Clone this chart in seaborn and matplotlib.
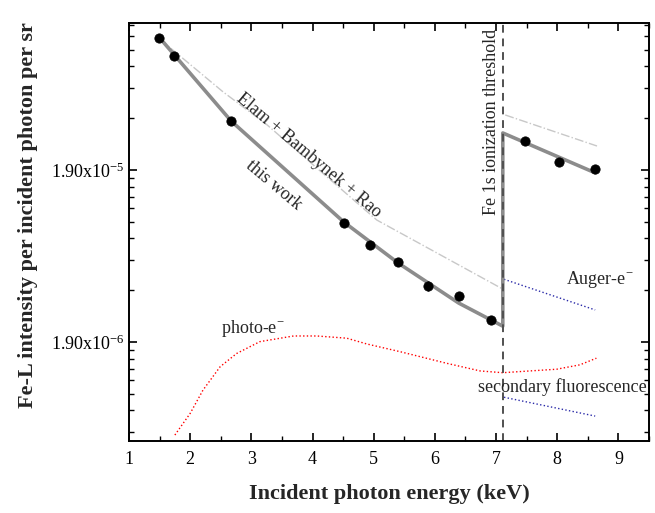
import numpy as np
import pandas as pd
import seaborn as sns
import matplotlib
matplotlib.use("Agg")
import matplotlib.pyplot as plt
from matplotlib.ticker import FixedLocator, FuncFormatter, MultipleLocator

# measured points ("this work")
energy_pts = [1.49, 1.74, 2.67, 4.51, 4.94, 5.40, 5.89, 6.39, 6.92, 7.47, 8.03, 8.62]
intensity_pts = [1.11e-4, 8.75e-5, 3.66e-5, 9.35e-6, 6.96e-6, 5.54e-6, 4.02e-6, 3.52e-6, 2.55e-6, 2.80e-5, 2.11e-5, 1.93e-5]
intensity_err = [0, 0, 0, 0, 3.0e-7, 0, 2.6e-7, 0, 1.4e-7, 0, 0, 0]

# model "this work"
work_x = [1.49, 2.67, 4.51, 5.40, 6.39, 7.11, 7.11, 8.62]
work_y = [1.127e-4, 3.66e-5, 9.48e-6, 5.47e-6, 3.20e-6, 2.35e-6, 3.12e-5, 1.83e-5]

# Elam + Bambynek + Rao
elam_x = [1.50, 2.54, 3.26, 5.05, 7.11]
elam_y = [1.098e-4, 5.40e-5, 3.47e-5, 9.73e-6, 3.86e-6]
elam2_x = [7.15, 8.65]
elam2_y = [3.97e-5, 2.62e-5]

# photo-electron contribution
photo_x = [1.75, 2.00, 2.21, 2.49, 2.76, 3.14, 3.69, 4.07, 4.56, 4.89, 5.43, 6.19, 6.74, 7.11, 7.55, 7.99, 8.37, 8.64]
photo_y = [5.47e-7, 7.31e-7, 9.99e-7, 1.365e-6, 1.63e-6, 1.91e-6, 2.06e-6, 2.06e-6, 2.00e-6, 1.85e-6, 1.67e-6, 1.43e-6, 1.29e-6, 1.26e-6, 1.29e-6, 1.32e-6, 1.40e-6, 1.53e-6]

# Auger electrons and secondary fluorescence above the edge
auger_x = [7.13, 8.62]
auger_y = [4.40e-6, 2.92e-6]
fluor_x = [7.13, 8.62]
fluor_y = [9.07e-7, 7.05e-7]

edge = 7.11
y_major = [1.9e-6, 1.9e-5]
y_minor = [1.9e-7 * m for m in range(3, 10)] + [1.9e-6 * m for m in range(2, 10)] + [1.9e-5 * m for m in range(2, 8)]

sns.set_theme(style="ticks")
plt.rcParams['font.family'] = ['Liberation Serif', 'DejaVu Serif']
plt.rcParams['mathtext.fontset'] = 'custom'
plt.rcParams['mathtext.rm'] = 'Liberation Serif'
plt.rcParams['mathtext.default'] = 'regular'

fig = plt.figure(figsize=(6.55, 5.13), dpi=100)
ax = fig.add_axes([129 / 655, 1 - 441 / 513, 520 / 655, 418 / 513])

line_kw = dict(ax=ax, sort=False, estimator=None)
sns.lineplot(x=elam_x, y=elam_y, color='#c8c8c8', lw=1, linestyle='-.', **line_kw)
sns.lineplot(x=elam2_x, y=elam2_y, color='#c8c8c8', lw=1, linestyle='-.', **line_kw)
sns.lineplot(x=photo_x, y=photo_y, color='red', lw=1, linestyle=':', **line_kw)
sns.lineplot(x=auger_x, y=auger_y, color='#2a2aa8', lw=1, linestyle=':', **line_kw)
sns.lineplot(x=fluor_x, y=fluor_y, color='#2a2aa8', lw=1, linestyle=':', **line_kw)
sns.lineplot(x=work_x, y=work_y, color='#8c8c8c', lw=2.6, **line_kw)
ax.axvline(edge, color='#505050', lw=1.4, linestyle=(0, (4, 3)))

ax.errorbar(energy_pts, intensity_pts, yerr=intensity_err, fmt='none', ecolor='black', elinewidth=1, capsize=0)
sns.scatterplot(x=energy_pts, y=intensity_pts, ax=ax, color='black', s=45, edgecolor='black', zorder=5)

ax.set_yscale('log')
ax.set_xlim(1, 9.5)
ax.set_ylim(5.05e-7, 1.36e-4)

ax.xaxis.set_major_locator(MultipleLocator(1))
ax.xaxis.set_minor_locator(MultipleLocator(0.5))
ax.yaxis.set_major_locator(FixedLocator(y_major))
ax.yaxis.set_minor_locator(FixedLocator(y_minor))
ax.yaxis.set_major_formatter(FuncFormatter(lambda v, p: "1.90x10$^{%d}$" % round(np.log10(v / 1.9))))
ax.yaxis.set_minor_formatter(FuncFormatter(lambda v, p: ""))

ax.tick_params(which='both', direction='in', top=True, right=True, colors='black', labelsize=13)
ax.tick_params(which='major', length=6, width=1.2)
ax.tick_params(which='minor', length=3.5, width=1)
ax.tick_params(axis='x', pad=7)
for s in ax.spines.values():
    s.set_linewidth(1.4)
    s.set_color('black')

ax.set_xlabel('Incident photon energy (keV)', fontsize=16, fontweight='bold', labelpad=12)
ax.set_ylabel('Fe-L intensity per incident photon per sr', fontsize=16, fontweight='bold')
ax.yaxis.set_label_coords(-0.175, 0.54)

ax.text(3.93, 2.32e-5, 'Elam + Bambynek + Rao', rotation=-40, fontsize=13, ha='center', va='center', rotation_mode='anchor')
ax.text(3.37, 1.55e-5, 'this work', rotation=-40, fontsize=13, ha='center', va='center', rotation_mode='anchor')
ax.text(6.92, 3.61e-5, 'Fe 1s ionization threshold', rotation=90, fontsize=13, ha='center', va='center')
ax.text(8.70, 4.36e-6, 'Auger-e$^{-}$', fontsize=13, ha='center', va='center')
ax.text(3.03, 2.29e-6, 'photo-e$^{-}$', fontsize=13, ha='center', va='center')
ax.text(8.09, 1.04e-6, 'secondary fluorescence', fontsize=13, ha='center', va='center')

fig.savefig('out.png', dpi=100)
